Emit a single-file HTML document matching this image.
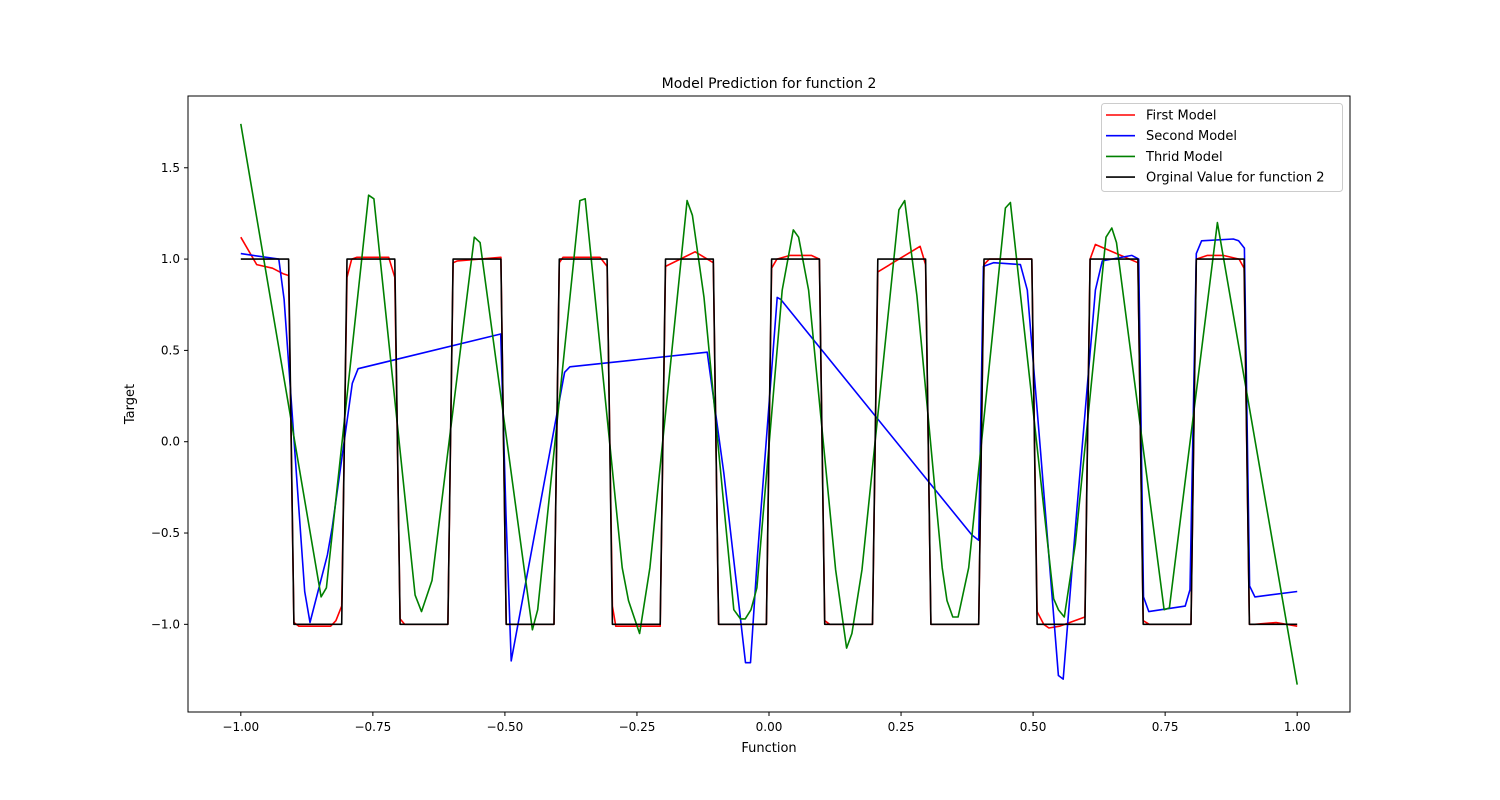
<!DOCTYPE html>
<html><head><meta charset="utf-8"><style>
body{margin:0;background:#fff;}
svg{display:block;font-family:"DejaVu Sans","Liberation Sans",sans-serif;}
</style></head><body>
<svg id="chart" width="1500" height="800">
<rect width="1500" height="800" fill="#fff"/>
<g id="marks"></g>
<g id="axes"></g>
</svg>
<script>
const xTicks=[-1.0,-0.75,-0.5,-0.25,0.0,0.25,0.5,0.75,1.0];
const xTickLabels=["\u22121.00","\u22120.75","\u22120.50","\u22120.25","0.00","0.25","0.50","0.75","1.00"];
const yTicks=[-1.0,-0.5,0.0,0.5,1.0,1.5];
const yTickLabels=["\u22121.0","\u22120.5","0.0","0.5","1.0","1.5"];
const seriesNames=["First Model","Second Model","Thrid Model","Orginal Value for function 2"];
const seriesColors=["#ff0000","#0000ff","#008000","#000000"];
const redX=[-1,-0.97,-0.94,-0.92,-0.9095,-0.8995,-0.89,-0.83,-0.82,-0.809,-0.799,-0.79,-0.78,-0.72,-0.7085,-0.6985,-0.69,-0.608,-0.598,-0.59,-0.5075,-0.4975,-0.407,-0.397,-0.39,-0.32,-0.3065,-0.2965,-0.29,-0.206,-0.196,-0.14,-0.1055,-0.0955,-0.005,0.005,0.015,0.04,0.08,0.0955,0.1055,0.115,0.196,0.206,0.286,0.2965,0.3065,0.397,0.407,0.417,0.4975,0.5075,0.52,0.53,0.55,0.598,0.608,0.618,0.6985,0.7085,0.72,0.799,0.809,0.83,0.86,0.89,0.8995,0.9095,0.92,0.96,1.0];
const redY=[1.12,0.97,0.95,0.92,0.91,-0.99,-1.01,-1.01,-0.98,-0.9,0.9,1.0,1.01,1.01,0.9,-0.97,-1.0,-1.0,0.98,0.99,1.01,-1.0,-1.0,0.98,1.01,1.01,0.96,-0.9,-1.01,-1.01,0.96,1.04,0.98,-1.0,-1.0,0.95,1.0,1.02,1.02,1.0,-0.98,-1.0,-1.0,0.93,1.07,0.97,-1.0,-1.0,0.97,1.0,1.0,-0.93,-1.0,-1.02,-1.01,-0.96,1.0,1.08,0.98,-0.98,-1.0,-1.0,1.0,1.02,1.02,1.0,0.95,-1.0,-1.0,-0.99,-1.01];
const blueX=[-1,-0.928,-0.918,-0.879,-0.869,-0.836,-0.827,-0.789,-0.778,-0.508,-0.498,-0.488,-0.387,-0.377,-0.117,-0.0855,-0.0445,-0.035,-0.022,0.0155,0.022,0.384,0.397,0.406,0.425,0.476,0.489,0.514,0.548,0.557,0.583,0.618,0.631,0.687,0.700,0.709,0.719,0.788,0.797,0.809,0.819,0.879,0.889,0.900,0.910,0.920,1.0];
const blueY=[1.03,1.0,0.78,-0.82,-0.99,-0.62,-0.47,0.32,0.40,0.59,-0.40,-1.20,0.38,0.41,0.49,-0.17,-1.21,-1.21,-0.63,0.79,0.78,-0.51,-0.54,0.96,0.98,0.97,0.83,-0.05,-1.28,-1.30,-0.37,0.83,0.99,1.02,1.0,-0.85,-0.93,-0.90,-0.81,1.03,1.10,1.11,1.10,1.06,-0.79,-0.85,-0.82];
const greenX=[-1,-0.848,-0.838,-0.758,-0.748,-0.670,-0.658,-0.638,-0.558,-0.547,-0.448,-0.438,-0.358,-0.348,-0.278,-0.266,-0.245,-0.2255,-0.155,-0.145,-0.123,-0.0666,-0.054,-0.045,-0.034,-0.023,0.025,0.046,0.056,0.075,0.126,0.147,0.157,0.176,0.246,0.257,0.280,0.328,0.337,0.348,0.358,0.378,0.4475,0.457,0.539,0.548,0.559,0.580,0.638,0.649,0.658,0.748,0.758,0.849,1.0];
const greenY=[1.74,-0.85,-0.80,1.35,1.33,-0.84,-0.93,-0.76,1.12,1.09,-1.03,-0.92,1.32,1.33,-0.69,-0.87,-1.05,-0.69,1.32,1.24,0.79,-0.92,-0.97,-0.97,-0.92,-0.80,0.83,1.16,1.12,0.83,-0.70,-1.13,-1.05,-0.70,1.27,1.32,0.80,-0.69,-0.87,-0.96,-0.96,-0.69,1.28,1.31,-0.86,-0.92,-0.96,-0.56,1.12,1.17,1.09,-0.92,-0.91,1.20,-1.33];
const blackX=[-1,-0.9095,-0.8995,-0.809,-0.799,-0.7085,-0.6985,-0.608,-0.598,-0.5075,-0.4975,-0.407,-0.397,-0.3065,-0.2965,-0.206,-0.196,-0.1055,-0.0955,-0.005,0.005,0.0955,0.1055,0.196,0.206,0.2965,0.3065,0.397,0.407,0.4975,0.5075,0.598,0.608,0.6985,0.7085,0.799,0.809,0.8995,0.9095,1.0];
const blackY=[1,1,-1,-1,1,1,-1,-1,1,1,-1,-1,1,1,-1,-1,1,1,-1,-1,1,1,-1,-1,1,1,-1,-1,1,1,-1,-1,1,1,-1,-1,1,1,-1,-1];

const L=188,R=1350,T=96,B=712;
const xMin=-1.1,xMax=1.1,yMin=-1.48,yMax=1.893;
const sx=v=>L+(v-xMin)/(xMax-xMin)*(R-L);
const sy=v=>B-(v-yMin)/(yMax-yMin)*(B-T);
const NS="http://www.w3.org/2000/svg";
function mk(tag,attrs,parent){const e=document.createElementNS(NS,tag);for(const k in attrs)e.setAttribute(k,attrs[k]);parent.appendChild(e);return e;}
const marks=document.getElementById('marks'),axes=document.getElementById('axes');
const series=[[redX,redY],[blueX,blueY],[greenX,greenY],[blackX,blackY]];
const sNames=["first-model-line","second-model-line","third-model-line","original-value-line"];
series.forEach((s,i)=>{
  const d=s[0].map((x,j)=>(j?'L':'M')+sx(x).toFixed(1)+','+sy(s[1][j]).toFixed(1)).join(' ');
  const p=mk('path',{d:d,fill:'none',stroke:seriesColors[i],'stroke-width':1.6,'stroke-linejoin':'round'},marks);
  
  
});
const frame=mk('rect',{x:L,y:T,width:R-L,height:B-T,fill:'none',stroke:'#000','stroke-width':1},axes);


xTicks.forEach((v,i)=>{
  mk('line',{x1:sx(v),x2:sx(v),y1:B,y2:B+4,stroke:'#000'},axes);
  const t=mk('text',{x:sx(v),y:B+19,'font-size':12,'text-anchor':'middle'},axes);
  t.textContent=xTickLabels[i];
  
  
});
yTicks.forEach((v,i)=>{
  mk('line',{x1:L-4,x2:L,y1:sy(v),y2:sy(v),stroke:'#000'},axes);
  const t=mk('text',{x:L-8,y:sy(v)+4,'font-size':12,'text-anchor':'end'},axes);
  t.textContent=yTickLabels[i];
  
  
});
const title=mk('text',{x:769,y:88,'font-size':14,'text-anchor':'middle'},axes);
title.textContent="Model Prediction for function 2";


const xl=mk('text',{x:769,y:752,'font-size':13,'text-anchor':'middle'},axes);
xl.textContent="Function";


const yl=mk('text',{x:134,y:404,'font-size':13,'text-anchor':'middle',transform:'rotate(-90 134 404)'},axes);
yl.textContent="Target";


const lg=mk('g',{},axes);


mk('rect',{x:1101.5,y:103.5,width:241,height:88,rx:3,fill:'#fff','fill-opacity':0.8,stroke:'#ccc'},lg);
seriesNames.forEach((n,i)=>{
  const y=115+i*20.7;
  const ln=mk('line',{x1:1106,x2:1135,y1:y,y2:y,stroke:seriesColors[i],'stroke-width':1.6},lg);
  
  
  const t=mk('text',{x:1146,y:y+4.5,'font-size':13},lg);
  t.textContent=n;
  
  
});
</script>
</body></html>
